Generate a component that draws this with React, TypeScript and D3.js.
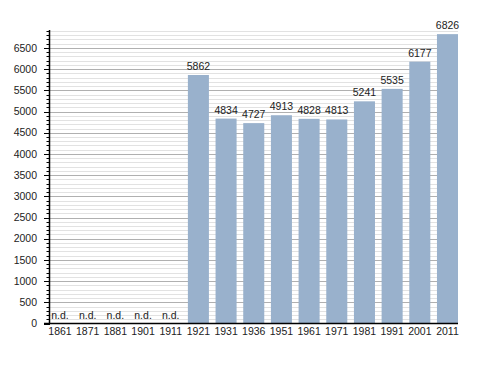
import * as d3 from "d3"

const years = ["1861", "1871", "1881", "1901", "1911", "1921", "1931", "1936", "1951", "1961", "1971", "1981", "1991", "2001", "2011"]
const population: (number | null)[] = [null, null, null, null, null, 5862, 4834, 4727, 4913, 4828, 4813, 5241, 5535, 6177, 6826]
const majorTicks = d3.range(0, 7000, 500)
const minorTicks = d3.range(0, 7000, 100)

export default function App() {
  const width = 488
  const height = 373
  const left = 50
  const right = 458

  const x = d3.scaleBand<string>().domain(years).range([49.5, 458]).paddingInner(0.24).paddingOuter(0)
  const y = d3.scaleLinear().domain([0, 6900]).range([323.5, 31])

  const font = "'Liberation Sans', Arial, sans-serif"

  return (
    <svg
      width={width}
      height={height}
      style={{ position: "absolute", left: 0, top: 0, background: "#fff" }}
      fontFamily={font}
    >
      {/* minor grid */}
      {minorTicks.filter((t) => t % 500 !== 0).map((t) => (
        <g key={"m" + t}>
          <line x1={left} x2={right} y1={Math.round(y(t)) + 0.5} y2={Math.round(y(t)) + 0.5} stroke="#e2e2e2" />
          <line x1={46.5} x2={left} y1={Math.round(y(t)) + 0.5} y2={Math.round(y(t)) + 0.5} stroke="#000" />
        </g>
      ))}
      {/* major grid */}
      {majorTicks.map((t) => (
        <g key={"M" + t}>
          {t > 0 && (
            <line x1={left} x2={right} y1={Math.round(y(t)) + 0.5} y2={Math.round(y(t)) + 0.5} stroke="#b0b0b0" />
          )}
          <line x1={44} x2={left} y1={Math.round(y(t)) + 0.5} y2={Math.round(y(t)) + 0.5} stroke="#000" />
          <text x={37} y={y(t)} dy="0.35em" textAnchor="end" fontSize={10.5} fill="#222">
            {t}
          </text>
        </g>
      ))}

      {/* bars */}
      {years.map((yr, i) => {
        const v = population[i]
        const cx = (x(yr) as number) + x.bandwidth() / 2
        if (v == null) {
          return (
            <text key={yr} x={cx} y={y(0) - 5} textAnchor="middle" fontSize={10.5} fill="#222">
              n.d.
            </text>
          )
        }
        return (
          <g key={yr}>
            <rect x={x(yr)} y={y(v)} width={x.bandwidth()} height={y(0) - y(v)} fill="#99b1cc" />
            <text x={cx} y={y(v) - 5} textAnchor="middle" fontSize={10.5} fill="#222">
              {v}
            </text>
          </g>
        )
      })}

      {/* axes */}
      <line x1={left - 0.5} x2={left - 0.5} y1={30} y2={324} stroke="#000" strokeWidth={1.5} />
      <line x1={44} x2={right} y1={323.5} y2={323.5} stroke="#000" strokeWidth={1.5} />

      {years.map((yr) => (
        <text
          key={"l" + yr}
          x={(x(yr) as number) + x.bandwidth() / 2}
          y={335}
          textAnchor="middle"
          fontSize={10.5}
          fill="#222"
        >
          {yr}
        </text>
      ))}
    </svg>
  )
}
